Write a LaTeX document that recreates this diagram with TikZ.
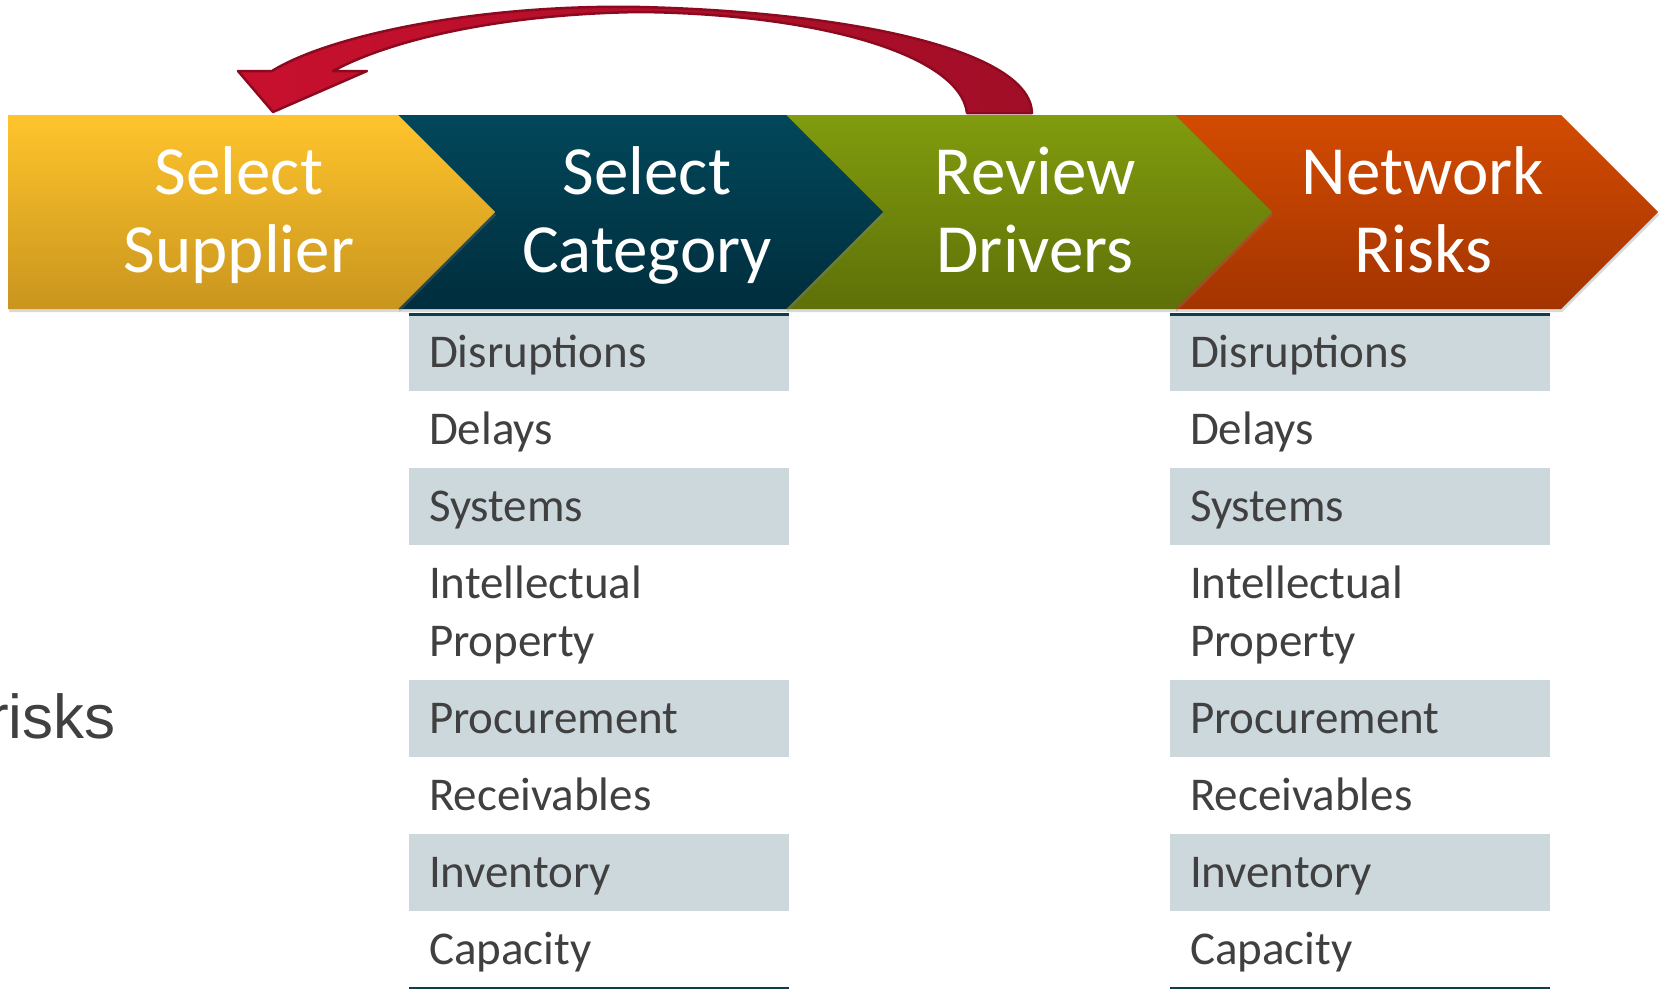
\documentclass[tikz,border=0pt]{standalone}
\usepackage{fontspec}
\setmainfont{Carlito}
\newfontfamily\arialfamily{Liberation Sans}
\usepackage{tikz}
\usetikzlibrary{positioning, shadows}

\definecolor{yellowtop}{HTML}{FFC42C}
\definecolor{yellowbot}{HTML}{C9951E}
\definecolor{tealtop}{HTML}{02475A}
\definecolor{tealbot}{HTML}{002E3D}
\definecolor{greentop}{HTML}{819C0E}
\definecolor{greenbot}{HTML}{5E7008}
\definecolor{orangetop}{HTML}{D34B02}
\definecolor{orangebot}{HTML}{A33400}
\definecolor{rowfill}{HTML}{CDD8DD}
\definecolor{textgray}{HTML}{404040}
\definecolor{ruleteal}{HTML}{0E3D4C}
\definecolor{arrowred}{HTML}{C8102E}
\definecolor{arrowdeep}{HTML}{A10E27}
\definecolor{arrowline}{HTML}{8C0A20}

\newcommand{\bannerfont}{\fontsize{69}{78}\selectfont}
\newcommand{\rowfont}{\fontsize{47}{58}\selectfont}
\newcommand{\sidefont}{\arialfamily\fontsize{62}{70}\selectfont}

\tikzstyle{chevron} = [drop shadow={opacity=0.3, shadow xshift=1pt, shadow yshift=-3pt}]
\tikzstyle{banner} = [text=white, align=center, font=\bannerfont, inner sep=0pt, anchor=base]
\tikzstyle{listrow} = [rectangle, minimum width=380pt, minimum height=76.7pt, text width=340pt, inner xsep=20pt, inner ysep=0pt, align=left, text=textgray, font=\rowfont, text height=36pt, text depth=6pt]
\tikzstyle{greyrow} = [listrow, fill=rowfill]
\tikzstyle{tallrow} = [listrow, minimum height=134pt, text depth=64pt]
\tikzstyle{tablerule} = [draw=ruleteal, line width=3pt]
\tikzstyle{backarrow} = [draw=arrowline, line width=2.5pt, line join=round, left color=arrowred, right color=arrowdeep]

\begin{document}
\begin{tikzpicture}[x=1pt, y=-1pt, node distance=0pt]
\useasboundingbox (0,0) rectangle (1665,988);

% banner, right to left so every tip lies on the next segment
\path[chevron, top color=orangetop, bottom color=orangebot] (1175,115) -- (1561,115) -- (1658,212) -- (1561,309) -- (1175,309) -- cycle;
\path[chevron, top color=greentop, bottom color=greenbot] (786,115) -- (1175,115) -- (1272,212) -- (1175,309) -- (786,309) -- cycle;
\path[chevron, top color=tealtop, bottom color=tealbot] (398,115) -- (786,115) -- (883,212) -- (786,309) -- (398,309) -- cycle;
\path[chevron, top color=yellowtop, bottom color=yellowbot] (8,115) -- (398,115) -- (495,212) -- (398,309) -- (8,309) -- cycle;

% base anchor sits on the second line
\node (supplier) [banner] at (239,272) {Select\\Supplier};
\node (category) [banner] at (647,272) {Select\\Category};
\node (drivers) [banner] at (1035,272) {Review\\Drivers};
\node (network) [banner] at (1423,272) {Network\\Risks};

\node (side) [anchor=base west, inner sep=0pt, font=\sidefont, text=textgray] at (-12,738) {risks};

% category list
\node (L1) [greyrow, anchor=north] at (599,314) {Disruptions};
\node (L2) [listrow, below=of L1] {Delays};
\node (L3) [greyrow, below=of L2] {Systems};
\node (L4) [tallrow, below=of L3] {Intellectual\\Property};
\node (L5) [greyrow, below=of L4] {Procurement};
\node (L6) [listrow, below=of L5] {Receivables};
\node (L7) [greyrow, below=of L6] {Inventory};
\node (L8) [listrow, below=of L7] {Capacity};
\draw [tablerule] (L1.north west) -- (L1.north east);
\draw [tablerule] (L8.south west) -- (L8.south east);

% network list
\node (R1) [greyrow, anchor=north] at (1360,314) {Disruptions};
\node (R2) [listrow, below=of R1] {Delays};
\node (R3) [greyrow, below=of R2] {Systems};
\node (R4) [tallrow, below=of R3] {Intellectual\\Property};
\node (R5) [greyrow, below=of R4] {Procurement};
\node (R6) [listrow, below=of R5] {Receivables};
\node (R7) [greyrow, below=of R6] {Inventory};
\node (R8) [listrow, below=of R7] {Capacity};
\draw [tablerule] (R1.north west) -- (R1.north east);
\draw [tablerule] (R8.south west) -- (R8.south east);

% curved arrow back from the drivers to the supplier
\path[backarrow] (1032,113) .. controls (1030,50) and (850,12) .. (640,7)
  .. controls (480,4) and (330,35) .. (272,71)
  -- (238,71) -- (273,112) -- (367,71) -- (333,71)
  .. controls (390,40) and (500,14) .. (640,12)
  .. controls (820,14) and (960,55) .. (967,113) -- cycle;
\end{tikzpicture}
\end{document}
